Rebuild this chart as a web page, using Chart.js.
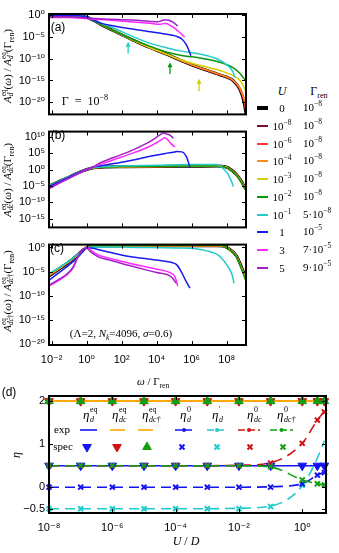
<!DOCTYPE html>
<html><head><meta charset="utf-8">
<script src="https://cdn.jsdelivr.net/npm/chart.js@4.4.0/dist/chart.umd.min.js"></script>
<style>
html,body{margin:0;padding:0;background:#fff;}
#wrap{position:relative;width:339px;height:553px;overflow:hidden;background:#fff;}
canvas{position:absolute;}
.t{position:absolute;white-space:nowrap;font-family:"Liberation Serif","DejaVu Serif",serif;color:#000;line-height:1;}
.sans{font-family:"Liberation Sans",Arial,sans-serif;}
.t sup,.t sub{font-size:68%;line-height:0;}
.ss{display:inline-flex;flex-direction:column;font-size:66%;line-height:1;vertical-align:middle;}
.ytl{position:absolute;width:130px;height:20px;display:flex;align-items:center;justify-content:center;white-space:nowrap;transform:rotate(-90deg);transform-origin:50% 50%;font-family:"Liberation Serif","DejaVu Serif",serif;font-size:11px;color:#000;}
.ytl sub{font-size:68%;line-height:0;}
.ytl > span.in{display:block;line-height:1;}
.ctr{transform:translate(-50%,-50%);}
.sw{position:absolute;left:257px;width:11px;}
</style></head>
<body><div id="wrap">
<canvas id="ca" width="250" height="125" style="left:0;top:0"></canvas>
<canvas id="cb" width="250" height="117" style="left:0;top:121px"></canvas>
<canvas id="cc" width="250" height="140" style="left:0;top:234px"></canvas>
<canvas id="cd" width="339" height="173" style="left:0;top:380px"></canvas>

<div class="ytl" style="left:-57px;top:56px"><span class="in"><i>A</i><span class="ss"><span>eq</span><span><i>d</i></span></span>(<i>ω</i>) / <i>A</i><span class="ss"><span>eq</span><span><i>d</i></span></span>(Γ<sub>ren</sub>)</span></div>
<div class="ytl" style="left:-57px;top:170px"><span class="in"><i>A</i><span class="ss"><span>eq</span><span><i>dc</i></span></span>(<i>ω</i>) / <i>A</i><span class="ss"><span>eq</span><span><i>dc</i></span></span>(Γ<sub>ren</sub>)</span></div>
<div class="ytl" style="left:-57px;top:281px"><span class="in"><i>A</i><span class="ss"><span>eq</span><span><i>dc</i>†</span></span>(<i>ω</i>) / <i>A</i><span class="ss"><span>eq</span><span><i>dc</i>†</span></span>(Γ<sub>ren</sub>)</span></div>

<div class="t sans ctr" style="left:58px;top:27px;font-size:12px">(a)</div>
<div class="t sans ctr" style="left:58px;top:135px;font-size:12px">(b)</div>
<div class="t sans ctr" style="left:57px;top:248px;font-size:12px">(c)</div>
<div class="t ctr" style="left:85px;top:101px;font-size:12px">Γ&nbsp;&nbsp;=&nbsp;&nbsp;10<sup>−8</sup></div>
<div class="t ctr" style="left:121px;top:333px;font-size:11px">(Λ=2, <i>N<sub>k</sub></i>=4096, <i>σ</i>=0.6)</div>
<div class="t ctr" style="left:153px;top:381px;font-size:11px"><i>ω</i> / Γ<sub>ren</sub></div>

<div class="t sans ctr" style="left:9px;top:392px;font-size:12px">(d)</div>
<div class="ytl" style="left:-49px;top:445px;font-size:12px"><span class="in"><i>η</i></span></div>
<div class="t ctr" style="left:186px;top:541px;font-size:12px"><i>U</i> / <i>D</i></div>

<div id="leg"></div>

<script>
// ---------------- data: panels (a)-(c), pairs are [log10(omega/Gamma_ren), log10(A)] ----------------
const omegaTicks = [1e-2, 1, 1e2, 1e4, 1e6, 1e8];
const yTicksA = [1, 1e-5, 1e-10, 1e-15, 1e-20];
const yTicksB = [1e10, 1e5, 1, 1e-5, 1e-10, 1e-15];
const yTicksC = [1, 1e-5, 1e-10, 1e-15, 1e-20];

const legendU = ['0','10<sup>−8</sup>','10<sup>−6</sup>','10<sup>−4</sup>','10<sup>−3</sup>','10<sup>−2</sup>','10<sup>−1</sup>','1','3','5'];
const legendGamma = ['10<sup>−8</sup>','10<sup>−8</sup>','10<sup>−8</sup>','10<sup>−8</sup>','10<sup>−8</sup>','10<sup>−8</sup>','5·10<sup>−8</sup>','10<sup>−5</sup>','7·10<sup>−5</sup>','9·10<sup>−5</sup>'];
const seriesColors = ['#000000','#7a1232','#ff3434','#ff8a1c','#d4d000','#0a960a','#22cccc','#1a1aee','#ff28ff','#a020c8'];

const a_U0  = [[-2.15,0],[-1,0],[-0.4,-0.1],[0,-0.45],[0.4,-1.15],[0.8,-2.1],[1.5,-3.5],[2.65,-5.7],[3.6,-7.4],[4.6,-9.0],[5.5,-10.6],[6.45,-12.1],[7.6,-13.7],[8.38,-15.1],[8.76,-17.1],[9.0,-20.2],[9.1,-22.7]];
const a_Um8 = [[-2.15,0],[-1,0],[-0.4,-0.1],[0,-0.45],[0.4,-1.15],[0.8,-2.1],[1.5,-3.5],[2.65,-5.7],[3.6,-7.4],[4.6,-9.0],[5.5,-10.6],[6.45,-12.1],[7.6,-13.7],[8.38,-15.1],[8.76,-17.1],[9.0,-20.0],[9.1,-22.5]];
const a_Um6 = [[-2.15,0],[-1,0],[-0.4,-0.1],[0,-0.45],[0.4,-1.15],[0.8,-2.1],[1.5,-3.5],[2.65,-5.7],[3.6,-7.4],[4.6,-9.0],[5.5,-10.6],[6.45,-12.1],[7.6,-13.7],[8.38,-15.05],[8.76,-17.0],[9.0,-19.8],[9.1,-21.9]];
const a_Um4 = [[-2.15,0],[-1,0],[-0.4,-0.1],[0,-0.45],[0.4,-1.15],[0.8,-2.1],[1.5,-3.5],[2.65,-5.7],[3.6,-7.4],[4.6,-9.0],[5.5,-10.6],[6.45,-12.0],[7.6,-13.6],[8.38,-15.0],[8.76,-16.8],[9.0,-19.2],[9.1,-20.8]];
const a_Um3 = [[-2.15,0],[-1,0],[-0.4,-0.1],[0,-0.45],[0.4,-1.15],[0.8,-2.1],[1.5,-3.5],[2.65,-5.7],[3.6,-7.4],[4.6,-9.0],[5.5,-10.4],[6.45,-11.5],[7.6,-12.7],[8.38,-13.9],[8.76,-15.0],[9.0,-16.7],[9.1,-17.7]];
const a_Um2 = [[-2.15,0],[-1,0],[-0.4,-0.1],[0,-0.45],[0.4,-1.15],[0.8,-2.1],[1.5,-3.5],[2.65,-5.6],[3.6,-7.1],[4.6,-8.5],[5.5,-9.3],[6.45,-9.8],[7.6,-10.8],[8.38,-12.1],[8.76,-13.4],[9.1,-15.2]];
const a_Um1 = [[-2.15,0],[-1,0],[-0.4,-0.1],[0,-0.45],[0.35,-0.95],[0.76,-1.7],[1.7,-3.2],[2.65,-4.9],[3.6,-6.4],[4.6,-7.5],[5.5,-8.3],[6.45,-8.9],[7.43,-10.0],[8.0,-11.4],[8.38,-13.2],[8.45,-14.3]];
const a_U1  = [[-2.15,0],[-1,0],[-0.4,-0.1],[0,-0.45],[0.4,-1.1],[0.8,-1.8],[1.5,-2.4],[2.5,-3.1],[3.5,-3.7],[4.5,-4.3],[5.1,-4.8],[5.45,-5.5],[5.7,-6.8],[5.85,-8.2],[5.95,-9.3]];
const a_U3  = [[-2.15,-0.5],[-1,-0.5],[0,-0.75],[1,-1.05],[2.65,-1.55],[3.6,-1.85],[4.2,-2.05],[4.45,-1.9],[4.6,-1.95],[4.8,-2.4],[5.0,-2.9],[5.3,-3.9],[5.6,-5.0]];
const a_U5  = [[-2.15,-0.4],[-1,-0.4],[0,-0.6],[1,-0.85],[2.65,-1.1],[3.6,-1.4],[4.05,-1.5],[4.3,-1.2],[4.5,-1.0],[4.7,-1.15],[4.95,-1.6],[5.2,-2.5]];

const b_U0  = [[-2.15,-5.1],[-1.5,-3.5],[-1,-2.3],[-0.5,-1.05],[0,0],[0.4,0.55],[1,0.75],[2,0.85],[4,0.95],[6,1.0],[7.5,1.05],[7.9,0.85],[8.09,0.5],[8.57,-1.6],[8.86,-3.8],[9.1,-6.0]];
const b_Um8 = [[-2.15,-5.1],[-1.5,-3.5],[-1,-2.3],[-0.5,-1.05],[0,0],[0.4,0.55],[1,0.75],[2,0.85],[4,0.95],[6,1.0],[7.5,1.05],[7.9,0.85],[8.09,0.5],[8.57,-1.6],[8.86,-3.8],[9.1,-6.0]];
const b_Um6 = [[-2.15,-5.1],[-1.5,-3.5],[-1,-2.3],[-0.5,-1.05],[0,0],[0.4,0.55],[1,0.75],[2,0.85],[4,0.95],[6,1.0],[7.5,1.05],[7.9,0.85],[8.09,0.5],[8.57,-1.6],[8.86,-3.8],[9.1,-6.0]];
const b_Um4 = [[-2.15,-5.1],[-1.5,-3.5],[-1,-2.3],[-0.5,-1.05],[0,0],[0.4,0.55],[1,0.75],[2,0.85],[4,0.95],[6,1.0],[7.5,1.05],[7.9,0.85],[8.09,0.5],[8.57,-1.6],[8.86,-3.9],[9.1,-6.1]];
const b_Um3 = [[-2.15,-5.1],[-1.5,-3.5],[-1,-2.3],[-0.5,-1.05],[0,0],[0.4,0.55],[1,0.75],[2,0.85],[4,0.95],[6,1.0],[7.5,1.05],[7.9,0.85],[8.09,0.45],[8.57,-1.7],[8.86,-4.0],[9.1,-6.3]];
const b_Um2 = [[-2.15,-5.0],[-1.5,-3.45],[-1,-2.25],[-0.5,-1.0],[0,0],[0.4,0.6],[1,0.8],[2,0.9],[4,1.0],[6,1.05],[7.5,1.05],[7.9,0.8],[8.09,0.4],[8.57,-1.8],[8.86,-4.1],[9.1,-6.5]];
const b_Um1 = [[-2.15,-5.0],[-1.5,-3.4],[-1,-2.2],[-0.5,-1.0],[0,0],[0.4,0.6],[1,0.9],[2,1.1],[4,1.3],[6,1.5],[7.3,1.5],[7.6,1.1],[7.85,0],[8.09,-1.6],[8.25,-3.4],[8.38,-5.2]];
const b_U1  = [[-2.15,-5.2],[-1.5,-3.6],[-1,-2.35],[-0.5,-1.05],[0,0],[0.5,0.9],[1,1.3],[2,2.2],[2.66,2.9],[3.5,3.9],[4.5,4.9],[4.95,5.3],[5.15,5.5],[5.43,5.4],[5.71,3.8],[5.9,0.6]];
const b_U3  = [[-2.15,-5.9],[-1.5,-4.0],[-1,-2.7],[-0.5,-1.3],[0,0],[0.4,0.8],[0.76,1.5],[1.5,2.9],[2.66,5.1],[3.5,6.8],[4.0,8.2],[4.3,9.2],[4.47,9.75],[4.6,9.3],[4.8,8.0],[5.05,6.9]];
const b_U5  = [[-2.15,-5.8],[-1.5,-3.9],[-1,-2.6],[-0.5,-1.25],[0,0],[0.4,0.9],[0.76,2.0],[1.5,3.6],[2.66,6.0],[3.5,8.2],[4.0,9.9],[4.3,11.0],[4.4,11.2],[4.55,10.9],[4.76,10.5],[4.95,9.6]];

const c_U0  = [[-2.15,-5.9],[-1.5,-4.3],[-1,-3.0],[-0.5,-1.5],[-0.2,-0.5],[0,0],[0.3,0.25],[1,0.3],[4,0.35],[7.5,0.35],[7.8,0.3],[8.1,-0.2],[8.55,-1.7],[8.86,-4.2],[9.1,-6.3]];
const c_Um8 = [[-2.15,-5.9],[-1.5,-4.3],[-1,-3.0],[-0.5,-1.5],[-0.2,-0.5],[0,0],[0.3,0.25],[1,0.3],[4,0.35],[7.5,0.35],[7.8,0.3],[8.1,-0.2],[8.55,-1.7],[8.86,-4.2],[9.1,-6.3]];
const c_Um6 = [[-2.15,-5.85],[-1.5,-4.25],[-1,-3.0],[-0.5,-1.5],[-0.2,-0.5],[0,0],[0.3,0.25],[1,0.3],[4,0.35],[7.5,0.35],[7.8,0.3],[8.1,-0.2],[8.55,-1.75],[8.86,-4.3],[9.1,-6.4]];
const c_Um4 = [[-2.15,-5.8],[-1.5,-4.2],[-1,-2.95],[-0.5,-1.45],[-0.2,-0.5],[0,0],[0.3,0.25],[1,0.3],[4,0.35],[7.5,0.35],[7.8,0.3],[8.1,-0.2],[8.55,-1.8],[8.86,-4.3],[9.1,-6.5]];
const c_Um3 = [[-2.15,-5.7],[-1.5,-4.1],[-1,-2.9],[-0.5,-1.45],[-0.2,-0.5],[0,0],[0.3,0.3],[1,0.35],[4,0.4],[7.5,0.4],[7.8,0.3],[8.1,-0.25],[8.55,-1.85],[8.86,-4.4],[9.1,-6.8]];
const c_Um2 = [[-2.15,-5.5],[-1.5,-4.0],[-1,-2.8],[-0.5,-1.4],[-0.2,-0.45],[0,0],[0.3,0.3],[1,0.4],[4,0.45],[7.5,0.45],[7.8,0.35],[8.1,-0.3],[8.55,-1.9],[8.86,-4.5],[9.1,-7.0]];
const c_Um1 = [[-2.15,-5.5],[-1.5,-4.0],[-1,-2.8],[-0.5,-1.4],[-0.2,-0.5],[0,-0.05],[0.3,0.05],[1,0.1],[3,0.0],[5,-0.1],[6.3,-0.3],[6.86,-0.7],[7.52,-1.6],[8.0,-3.6],[8.29,-5.5],[8.42,-7.4]];
const c_U1  = [[-2.15,-6.8],[-1.5,-5.0],[-1,-3.6],[-0.5,-2.0],[-0.2,-0.8],[0,-0.1],[0.2,-0.1],[0.76,-0.5],[2.05,-1.6],[3.96,-2.6],[4.95,-3.2],[5.15,-3.6],[5.43,-5.2],[5.65,-6.8],[5.9,-8.4]];
const c_U3  = [[-2.15,-8.0],[-1.5,-6.6],[-1.1,-5.6],[-0.77,-4.2],[-0.5,-2.0],[-0.3,-0.7],[0,0],[0.1,-0.1],[0.25,-0.6],[0.5,-1.2],[0.76,-1.7],[1.3,-2.2],[2.5,-3.3],[4.0,-4.5],[4.76,-5.2],[5.05,-6.1],[5.2,-8.0]];
const c_U5  = [[-2.15,-7.8],[-1.5,-6.4],[-1.1,-5.4],[-0.77,-4.0],[-0.5,-1.9],[-0.3,-0.7],[0,-0.1],[0.2,-0.8],[0.5,-1.6],[0.76,-2.1],[1.3,-2.6],[2.5,-3.8],[4.0,-5.2],[4.76,-5.9],[5.0,-6.8],[5.1,-7.4]];

// arrows in (a): log10 omega, tail and tip in log10 A, colour index
const arrowLogOmega = [2.37, 4.76, 6.42];
const arrowTail = [-8.8, -13.5, -17.5];
const arrowTip = [-6.1, -10.8, -14.6];
const arrowColor = [6, 5, 4];

// ---------------- data: panel (d) ----------------
const U_D = [1e-8,1e-7,1e-6,1e-5,1e-4,1e-3,1e-2,1e-1,1,3,5];
const dXTicks = [1e-8,1e-6,1e-4,1e-2,1];
const dYTicks = [-0.5,0,1,2];
const dYTickLabels = ['−0.5','0','1','2'];
const eta_d_eq_exp    = [0.5,0.5,0.5,0.5,0.5,0.5,0.5,0.5,0.5,0.5,0.5];
const eta_dc_eq_exp   = [2,2,2,2,2,2,2,2,2,2,2];
const eta_dcd_eq_exp  = [2,2,2,2,2,2,2,2,2,2,2];
const eta_d0_exp      = [0,0,0,0,0,0,0,0.01,0.08,0.28,0.35];
const eta_dp_exp      = [-0.5,-0.5,-0.5,-0.5,-0.5,-0.5,-0.49,-0.44,0.03,0.68,1.08];
const eta_dc0_exp     = [0.5,0.5,0.5,0.5,0.5,0.5,0.51,0.57,1.02,1.56,1.76];
const eta_dcd0_exp    = [0.5,0.5,0.5,0.5,0.5,0.5,0.5,0.47,0.17,0.08,0.05];
const eta_d_eq_spec   = [0.5,0.5,0.5,0.5,0.5,0.5,0.5,0.5,0.5,0.5,0.5];
const eta_dc_eq_spec  = [2,2,2,2,2,2,2,2,2,2,2];
const eta_dcd_eq_spec = [2,2,2,2,2,2,2,2,2,2,2];
const eta_d0_spec     = [0,0,0,0,0,0,0,0,0.08,0.28,0.34];
const eta_dp_spec     = [-0.5,-0.5,-0.5,-0.5,-0.5,-0.5,-0.5,-0.45,0.05,null,null];
const eta_dc0_spec    = [0.5,0.5,0.5,0.5,0.5,0.5,0.5,0.56,1.02,1.56,1.75];
const eta_dcd0_spec   = [0.5,0.5,0.5,0.5,0.5,0.5,0.5,0.48,0.17,0.08,0.05];

// ---------------- helpers ----------------
const SUP = {'0':'⁰','1':'¹','2':'²','3':'³','4':'⁴','5':'⁵','6':'⁶','7':'⁷','8':'⁸','9':'⁹','-':'⁻'};
function pow10Label(v){const e=Math.round(Math.log10(v));return '10'+String(e).split('').map(c=>SUP[c]).join('');}
const TICKFONT = {family:'"Liberation Sans","DejaVu Sans",sans-serif', size:11};

const framePlugin = {
  id:'frame',
  afterDatasetsDraw(chart){
    const {ctx, chartArea:a, scales} = chart;
    const xs=scales.x, ys=scales.y, tl=4;
    ctx.save();
    ctx.strokeStyle='#000'; ctx.lineWidth=1;
    ctx.beginPath();
    xs.ticks.forEach(t=>{const p=Math.round(xs.getPixelForValue(t.value))+0.5;
      ctx.moveTo(p,a.bottom);ctx.lineTo(p,a.bottom-tl);ctx.moveTo(p,a.top);ctx.lineTo(p,a.top+tl);});
    ys.ticks.forEach(t=>{const p=Math.round(ys.getPixelForValue(t.value))+0.5;
      ctx.moveTo(a.left,p);ctx.lineTo(a.left+tl,p);ctx.moveTo(a.right,p);ctx.lineTo(a.right-tl,p);});
    ctx.stroke();
    ctx.lineWidth=2;
    ctx.strokeRect(a.left,a.top,a.right-a.left,a.bottom-a.top);
    ctx.restore();
  }
};

const arrowPlugin = {
  id:'arrows',
  afterDatasetsDraw(chart){
    const {ctx, scales} = chart;
    ctx.save();
    arrowLogOmega.forEach((lw,i)=>{
      const x=scales.x.getPixelForValue(10**lw);
      const y1=scales.y.getPixelForValue(10**arrowTail[i]);
      const y2=scales.y.getPixelForValue(10**arrowTip[i]);
      const c=seriesColors[arrowColor[i]];
      ctx.strokeStyle=c; ctx.fillStyle=c; ctx.lineWidth=1.3;
      ctx.beginPath(); ctx.moveTo(x,y1); ctx.lineTo(x,y2+4); ctx.stroke();
      ctx.beginPath(); ctx.moveTo(x,y2); ctx.lineTo(x-2.5,y2+5); ctx.lineTo(x+2.5,y2+5); ctx.closePath(); ctx.fill();
    });
    ctx.restore();
  }
};

function mkSeries(arrs){
  return arrs.map((arr,i)=>({
    data: arr.map(p=>({x:10**p[0], y:10**p[1]})),
    borderColor: seriesColors[i],
    borderWidth: i===0?3:1.5,
    pointRadius:0, fill:false,
    cubicInterpolationMode:'monotone',
    order: 10-i
  }));
}

function topChart(id, arrs, yMin, yMax, yTicks, pad, showX, extra){
  return new Chart(document.getElementById(id), {
    type:'line',
    data:{datasets: mkSeries(arrs)},
    options:{
      responsive:false, animation:false, devicePixelRatio:1,
      layout:{padding:{top:pad[0], right:4, bottom:pad[1], left:0}},
      plugins:{legend:{display:false}, tooltip:{enabled:false}},
      scales:{
        x:{type:'logarithmic', min:10**-2.15, max:10**9.1,
           afterBuildTicks:s=>{s.ticks=omegaTicks.map(v=>({value:v}));},
           ticks:{display:showX, autoSkip:false, maxRotation:0, padding:8, color:'#000', font:TICKFONT, callback:v=>pow10Label(v)},
           grid:{display:false, drawTicks:false}, border:{display:false},
           afterFit:s=>{s.height=showX?29:0;}},
        y:{type:'logarithmic', min:10**yMin, max:10**yMax,
           afterBuildTicks:s=>{s.ticks=yTicks.map(v=>({value:v}));},
           ticks:{autoSkip:false, padding:4, color:'#000', font:TICKFONT, callback:v=>pow10Label(v)},
           grid:{display:false, drawTicks:false}, border:{display:false},
           afterFit:s=>{s.width=49;}}
      }
    },
    plugins:[framePlugin].concat(extra||[])
  });
}

topChart('ca', [a_U0,a_Um8,a_Um6,a_Um4,a_Um3,a_Um2,a_Um1,a_U1,a_U3,a_U5], -22.8, 0.3, yTicksA, [14,4], false, [arrowPlugin]);
topChart('cb', [b_U0,b_Um8,b_Um6,b_Um4,b_Um3,b_Um2,b_Um1,b_U1,b_U3,b_U5], -17.7, 11.6, yTicksB, [4,4], false);
topChart('cc', [c_U0,c_Um8,c_Um6,c_Um4,c_Um3,c_Um2,c_Um1,c_U1,c_U3,c_U5], -20.2, 0.6, yTicksC, [4,0], true);

// ---------------- right legend (HTML) ----------------
(function(){
  const leg=document.getElementById('leg');
  let h='<div class="t ctr" style="left:282px;top:91px;font-size:12px"><i>U</i></div>'+
        '<div class="t ctr" style="left:319px;top:91px;font-size:12px">Γ<sub>ren</sub></div>';
  legendU.forEach((u,i)=>{
    const y=108+i*17.75;
    const th=i===0?4:2;
    h+='<div class="sw" style="top:'+(y-th/2)+'px;height:'+th+'px;background:'+seriesColors[i]+'"></div>';
    h+='<div class="t ctr" style="left:282px;top:'+y+'px;font-size:11px">'+u+'</div>';
    h+='<div class="t" style="left:303px;top:'+(y-6)+'px;font-size:11px">'+legendGamma[i]+'</div>';
  });
  leg.innerHTML=h;
})();

// ---------------- panel (d) ----------------
const BLUE='#1414f0', ORANGE='#ffa500', RED='#d41010', GREEN='#12a012', CYAN='#1fcccc';
const toXY = arr => U_D.map((u,i)=>({x:u,y:arr[i]})).filter(p=>p.y!==null);
function lineDS(arr,color,dash,order){return {data:toXY(arr),borderColor:color,borderWidth:1.6,borderDash:dash,pointRadius:0,fill:false,cubicInterpolationMode:'monotone',order};}
function markDS(arr,color,style,rot,r,order){return {data:toXY(arr),showLine:false,pointStyle:style,pointRotation:rot,pointRadius:r,
  pointBackgroundColor:color,pointBorderColor:color,pointBorderWidth:style==='crossRot'?2:1,clip:false,order};}

const DASH=[10,6];
const dLegendCols = [
  {sub:'d',  sup:'eq', hx:83,  lx:[80,97],   mx:87,  color:BLUE,   dash:[],   dot:false, style:'triangle', rot:180},
  {sub:'dc', sup:'eq', hx:112, lx:[110,125], mx:117, color:RED,    lcolor:ORANGE, dash:[], dot:false, style:'triangle', rot:180},
  {sub:'dc†',sup:'eq', hx:142, lx:[138,153], mx:147, color:GREEN,  lcolor:ORANGE, dash:[], dot:false, style:'triangle', rot:0},
  {sub:'d',  sup:'0',  hx:180, lx:[175,193], mx:182, color:BLUE,   dash:[7,3], dot:true, style:'crossRot', rot:0},
  {sub:'d',  sup:'′',  hx:212, lx:[207,227], mx:217, color:CYAN,   dash:[7,3], dot:true, style:'crossRot', rot:0},
  {sub:'dc', sup:'0',  hx:247, lx:[238,260], mx:250, color:RED,    dash:[7,3], dot:true, style:'crossRot', rot:0},
  {sub:'dc†',sup:'0',  hx:277, lx:[270,293], mx:283, color:GREEN,  dash:[7,3], dot:true, style:'crossRot', rot:0}
];
const D_TOP=380;
const dLegendPlugin = {
  id:'dLegend',
  afterDatasetsDraw(chart){
    const ctx=chart.ctx;
    ctx.save();
    ctx.fillStyle='#000'; ctx.textBaseline='alphabetic';
    ctx.font='11px "Liberation Serif",serif';
    ctx.textAlign='center';
    ctx.fillText('exp',62,433-D_TOP);
    ctx.fillText('spec',63,450-D_TOP);
    ctx.textAlign='left';
    dLegendCols.forEach(c=>{
      const by=419-D_TOP;
      ctx.font='italic 13px "Liberation Serif",serif';
      ctx.fillText('η',c.hx,by);
      const w=ctx.measureText('η').width;
      ctx.font='8px "Liberation Serif",serif';
      ctx.fillText(c.sup,c.hx+w+0.5,by-7);
      ctx.font='italic 8px "Liberation Serif",serif';
      ctx.fillText(c.sub,c.hx+w+0.5,by+2.5);
      const y1=430-D_TOP;
      ctx.strokeStyle=c.lcolor||c.color; ctx.lineWidth=1.6; ctx.setLineDash(c.dash);
      ctx.beginPath(); ctx.moveTo(c.lx[0],y1); ctx.lineTo(c.lx[1],y1); ctx.stroke();
      ctx.setLineDash([]);
      if(c.dot){ctx.fillStyle=c.color; ctx.beginPath(); ctx.arc((c.lx[0]+c.lx[1])/2,y1,2,0,Math.PI*2); ctx.fill(); ctx.fillStyle='#000';}
      const y2=447-D_TOP;
      ctx.fillStyle=c.color; ctx.strokeStyle=c.color; ctx.lineWidth=c.style==='crossRot'?2:1;
      Chart.helpers.drawPoint(ctx,{pointStyle:c.style,rotation:c.rot,radius:c.style==='crossRot'?3.5:5,borderWidth:ctx.lineWidth},c.mx,y2);
      ctx.fillStyle='#000';
    });
    ctx.restore();
  }
};

new Chart(document.getElementById('cd'), {
  type:'line',
  data:{datasets:[
    lineDS(eta_d_eq_exp, BLUE, [], 11),
    lineDS(eta_dc_eq_exp, ORANGE, [], 12),
    lineDS(eta_dcd_eq_exp, ORANGE, [], 13),
    lineDS(eta_d0_exp, BLUE, DASH, 10),
    lineDS(eta_dp_exp, CYAN, DASH, 9),
    lineDS(eta_dc0_exp, RED, DASH, 8),
    lineDS(eta_dcd0_exp, GREEN, DASH, 7),
    markDS(eta_d_eq_spec, BLUE, 'triangle', 180, 5, 4),
    markDS(eta_dc_eq_spec, RED, 'triangle', 180, 5, 1),
    markDS(eta_dcd_eq_spec, GREEN, 'triangle', 0, 5, 0),
    markDS(eta_d0_spec, BLUE, 'crossRot', 0, 3.5, 5),
    markDS(eta_dp_spec, CYAN, 'crossRot', 0, 3.5, 6),
    markDS(eta_dc0_spec, RED, 'crossRot', 0, 3.5, 3),
    markDS(eta_dcd0_spec, GREEN, 'crossRot', 0, 3.5, 2)
  ]},
  options:{
    responsive:false, animation:false, devicePixelRatio:1,
    layout:{padding:{top:16, right:13, bottom:0, left:0}},
    plugins:{legend:{display:false}, tooltip:{enabled:false}},
    scales:{
      x:{type:'logarithmic', min:1e-8, max:10**0.75,
         afterBuildTicks:s=>{s.ticks=dXTicks.map(v=>({value:v}));},
         ticks:{autoSkip:false, maxRotation:0, padding:8, color:'#000', font:TICKFONT, callback:v=>pow10Label(v)},
         grid:{display:false, drawTicks:false}, border:{display:false},
         afterFit:s=>{s.height=40;}},
      y:{type:'linear', min:-0.6, max:2.12,
         afterBuildTicks:s=>{s.ticks=dYTicks.map(v=>({value:v}));},
         ticks:{autoSkip:false, padding:4, color:'#000', font:TICKFONT, callback:(v,i)=>dYTickLabels[i]},
         grid:{display:false, drawTicks:false}, border:{display:false},
         afterFit:s=>{s.width=49;}}
    }
  },
  plugins:[framePlugin, dLegendPlugin]
});
</script>
</div></body></html>
